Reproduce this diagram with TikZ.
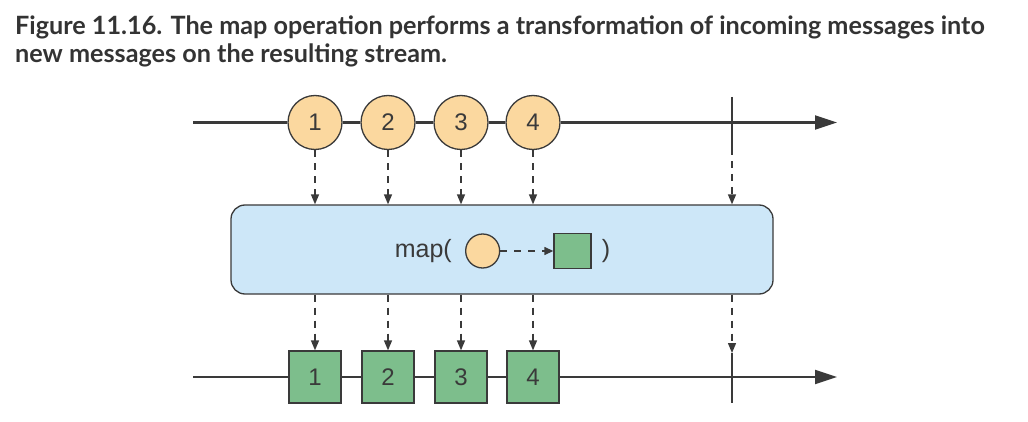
\documentclass[tikz,border=0pt]{standalone}
\usepackage{fontspec}
\setmainfont{Liberation Sans}
\newfontfamily\captionfont{Lato}
\usetikzlibrary{arrows.meta, positioning}

\definecolor{msgorange}{HTML}{FBD89F}
\definecolor{msggreen}{HTML}{7DBE8C}
\definecolor{mapblue}{HTML}{CDE7F8}
\definecolor{linegray}{HTML}{3A3A3A}
\definecolor{captiongray}{HTML}{333333}

\tikzset{
  caption/.style={anchor=base west, inner sep=0, text=captiongray,
    font=\captionfont\bfseries\fontsize{25.2}{28}\selectfont},
  stream/.style={line width=2.2pt, draw=linegray, -{Triangle[length=22pt,width=14pt]}},
  endtick/.style={line width=2.6pt, draw=linegray},
  msgin/.style={circle, draw=linegray, line width=1.3pt, fill=msgorange,
    minimum size=54pt, inner sep=0pt, text=linegray, font=\fontsize{24}{24}\selectfont},
  msgout/.style={rectangle, draw=linegray, line width=1.3pt, fill=msggreen,
    minimum size=52pt, inner sep=0pt, text=linegray, font=\fontsize{24}{24}\selectfont},
  flow/.style={line width=1.4pt, draw=linegray, dash pattern=on 7pt off 6pt,
    -{Triangle[length=10pt,width=8pt]}},
}

\begin{document}
\begin{tikzpicture}[x=1pt, y=-1pt]
\useasboundingbox (0,0) rectangle (1028,422);

% Caption
\node [caption] (caption1) at (15,35)
  {Figure 11.16. The map operation performs a transformation of incoming messages into};
\node [caption] (caption2) at (15,63)
  {new messages on the resulting stream.};

% Operator
\node [draw=linegray, line width=1.3pt, fill=mapblue, rounded corners=14pt,
  minimum width=542pt, minimum height=89pt] (mapbox) at (502,249.5) {};
\node [anchor=east, inner sep=0, text=linegray, font=\fontsize{25}{25}\selectfont] (mapopen) at (452,251) {map(};
\node [circle, draw=linegray, line width=1.3pt, fill=msgorange, minimum size=34pt, inner sep=0,
  right=13pt of mapopen] (mapcirc) {};
\node [rectangle, draw=linegray, line width=1.3pt, fill=msggreen, minimum width=37pt,
  minimum height=35pt, inner sep=0, right=53pt of mapcirc] (mapsq) {};
\node [inner sep=0, text=linegray, font=\fontsize{25}{25}\selectfont, right=10pt of mapsq] (mapclose) {)};
\draw [line width=1.4pt, draw=linegray, dash pattern=on 7pt off 7pt,
  -{Triangle[length=9pt,width=8pt]}] (mapcirc) -- (mapsq);

% Input stream
\coordinate (instart) at (193,122.5);
\coordinate (inend) at (837,122.5);
\foreach \i/\x in {1/315, 2/388, 3/461, 4/533} {
  \node [msgin] (in\i) at (\x,122.5) {\i};
}
\draw [stream] (instart) -- (in1) -- (in2) -- (in3) -- (in4) -- (inend);
\coordinate (intickt) at (732,97);
\coordinate (intickb) at (732,148);
\draw [endtick] (intickt) -- (intickb);

% Output stream
\coordinate (outstart) at (193,377);
\coordinate (outend) at (837,377);
\foreach \i/\x in {1/315, 2/388, 3/461, 4/533} {
  \node [msgout] (out\i) at (\x,377) {\i};
}
\draw [stream] (outstart) -- (out1) -- (out2) -- (out3) -- (out4) -- (outend);
\coordinate (outtickt) at (732,353);
\coordinate (outtickb) at (732,403);
\draw [endtick] (outtickt) -- (outtickb);

% Flow through the operator
\foreach \i in {1,...,4} {
  \draw [flow] (in\i.south) -- (in\i.south |- mapbox.north);
  \draw [flow] (in\i.south |- mapbox.south) -- (out\i.north);
}
\draw [flow] (intickb) -- (intickb |- mapbox.north);
\draw [flow] (intickb |- mapbox.south) -- (outtickt);

\end{tikzpicture}
\end{document}
